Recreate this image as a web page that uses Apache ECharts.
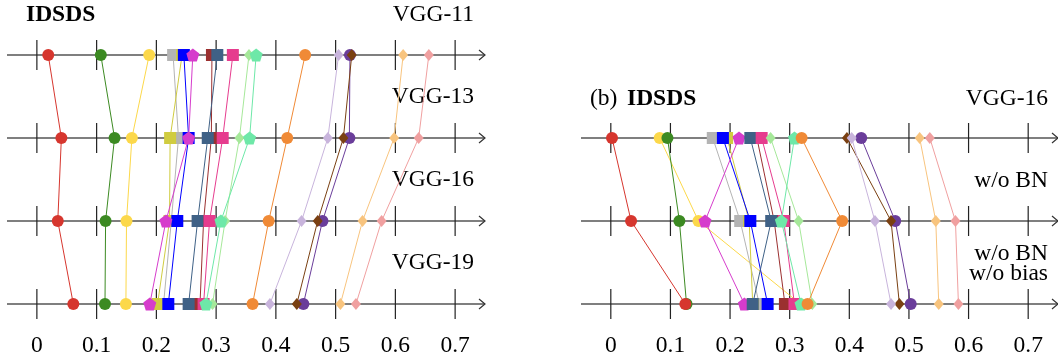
<!DOCTYPE html>
<html>
<head>
<meta charset="utf-8">
<script src="https://cdn.jsdelivr.net/npm/echarts@6/dist/echarts.min.js"></script>
<style>
  html, body { margin: 0; background: #fff; }
  #chart { width: 1058px; height: 360px; }
</style>
</head>
<body>
<div id="chart"></div>
<script>
// methods (draw order), one value per method in each row
var methods = ['M1', 'M2', 'M3', 'M4', 'M5', 'M6', 'M7', 'M8', 'M9',
               'M10', 'M11', 'M12', 'M13', 'M14', 'M15', 'M16', 'M17', 'M18'];
var colors = ['#fcd84a', '#3c8a22', '#d6362e', '#b4b4b4', '#d0cc40', '#0000ff', '#d63ccc', '#9b3030', '#3f6186',
              '#e63c8e', '#a6e89a', '#6ee8a8', '#f08a36', '#6a3d9a', '#7a4012', '#c8b4dc', '#f8c47e', '#f0a0a0'];
var pent = 'path://M0,-10L9.51,-3.09L5.88,8.09L-5.88,8.09L-9.51,-3.09Z';
var symbols = ['circle', 'circle', 'circle', 'rect', 'rect', 'rect', pent, 'rect', 'rect',
               'rect', 'diamond', pent, 'circle', 'circle', 'diamond', 'diamond', 'diamond', 'diamond'];

// panel (a): VGG-11 / 13 / 16 / 19
var vgg11 = [0.188, 0.107, 0.019, 0.228, 0.243, 0.246, 0.261, 0.293, 0.302,
             0.328, 0.355, 0.367, 0.449, 0.524, 0.527, 0.505, 0.613, 0.656];
var vgg13 = [0.159, 0.130, 0.041, 0.237, 0.223, 0.254, 0.254, 0.292, 0.286,
             0.311, 0.339, 0.356, 0.419, 0.523, 0.513, 0.487, 0.598, 0.639];
var vgg16 = [0.150, 0.115, 0.035, 0.225, 0.222, 0.235, 0.216, 0.279, 0.269,
             0.289, 0.315, 0.308, 0.388, 0.478, 0.470, 0.443, 0.545, 0.577];
var vgg19 = [0.149, 0.114, 0.061, 0.212, 0.202, 0.220, 0.189, 0.273, 0.254,
             0.279, 0.294, 0.283, 0.361, 0.446, 0.435, 0.390, 0.508, 0.534];

// panel (b): VGG-16 / w/o BN / w/o BN w/o bias
var bVgg16 = [0.082, 0.095, 0.002, 0.171, 0.195, 0.188, 0.215, 0.245, 0.234,
              0.253, 0.268, 0.308, 0.320, 0.420, 0.396, 0.404, 0.518, 0.535];
var bNoBN = [0.147, 0.115, 0.034, 0.217, 0.232, 0.234, 0.158, 0.274, 0.269,
             0.290, 0.315, 0.286, 0.388, 0.477, 0.470, 0.443, 0.545, 0.578];
var bNoBias = [0.318, 0.127, 0.125, 0.249, 0.238, 0.263, 0.224, 0.292, 0.238,
               0.308, 0.338, 0.319, 0.330, 0.503, 0.484, 0.470, 0.550, 0.583];

var axisTicks = [0, 0.1, 0.2, 0.3, 0.4, 0.5, 0.6, 0.7];
var xMin = -0.05, xMax = 0.75;

var chart = echarts.init(document.getElementById('chart'));
var serif = '"Liberation Serif", "DejaVu Serif", serif';
var fs = 23.5;

function rowAxis(params, api) {
    var r = api.value(1);
    var a = api.coord([xMin, r]);
    var b = api.coord([xMax, r]);
    var kids = [
        { type: 'line', shape: { x1: a[0], y1: a[1], x2: b[0], y2: b[1] }, style: { stroke: '#555', lineWidth: 1.3 } },
        { type: 'polyline', shape: { points: [[b[0] - 6, b[1] - 5], [b[0], b[1]], [b[0] - 6, b[1] + 5]] },
          style: { stroke: '#333', fill: null, lineWidth: 1.2 } }
    ];
    axisTicks.forEach(function (t) {
        var p = api.coord([t, r]);
        kids.push({ type: 'line', shape: { x1: p[0], y1: p[1] - 15, x2: p[0], y2: p[1] + 15 },
                    style: { stroke: '#222', lineWidth: 1.2 } });
    });
    return { type: 'group', children: kids };
}

function symSize(s) {
    if (s === 'diamond') return [10, 12];
    if (s === 'rect') return 12;
    if (s === 'circle') return 12;
    return 13;
}

var series = [];
function addPanel(idx, rows) {
    series.push({
        type: 'custom', xAxisIndex: idx, yAxisIndex: idx, clip: false, z: 1, silent: true,
        encode: { x: 0, y: 1 },
        data: rows.map(function (r, i) { return [xMin, i]; }),
        renderItem: rowAxis
    });
    methods.forEach(function (m, k) {
        series.push({
            name: m, type: 'line', xAxisIndex: idx, yAxisIndex: idx, z: 2 + k,
            symbol: symbols[k], symbolSize: symSize(symbols[k]), showSymbol: true,
            color: colors[k],
            lineStyle: { width: 1, color: colors[k] },
            itemStyle: { color: colors[k], borderWidth: 0 },
            data: rows.map(function (row, i) { return [row[k], i]; })
        });
    });
}
addPanel(0, [vgg11, vgg13, vgg16, vgg19]);
addPanel(1, [bVgg16, bNoBN, bNoBias]);

var xAxisBase = function (g) {
    return {
        gridIndex: g, type: 'value', min: xMin, max: xMax,
        axisLine: { show: false }, axisTick: { show: false }, splitLine: { show: false },
        axisLabel: { customValues: axisTicks, fontFamily: serif, fontSize: fs, color: '#000', margin: 30 }
    };
};

function label(txt, x, y, align, bold) {
    return {
        type: 'text', x: x, y: y,
        style: { text: txt, font: (bold ? 'bold ' : '') + fs + 'px ' + serif, fill: '#000',
                 textAlign: align, textVerticalAlign: 'middle' }
    };
}

chart.setOption({
    animation: false,
    grid: [
        { left: 7, width: 478, top: 55, height: 249 },
        { left: 581, width: 477, top: 138, height: 166 }
    ],
    xAxis: [xAxisBase(0), xAxisBase(1)],
    yAxis: [
        { gridIndex: 0, type: 'value', min: 0, max: 3, inverse: true, show: false },
        { gridIndex: 1, type: 'value', min: 0, max: 2, inverse: true, show: false }
    ],
    graphic: [
        label('IDSDS', 26, 15, 'left', true),
        label('VGG-11', 474, 15, 'right'),
        label('VGG-13', 474, 97, 'right'),
        label('VGG-16', 474, 180, 'right'),
        label('VGG-19', 474, 263, 'right'),
        label('(b)', 590, 99, 'left'),
        label('IDSDS', 627, 99, 'left', true),
        label('VGG-16', 1048, 99, 'right'),
        label('w/o BN', 1048, 181, 'right'),
        label('w/o BN', 1048, 254, 'right'),
        label('w/o bias', 1048, 274, 'right')
    ],
    series: series
});
</script>
</body>
</html>
